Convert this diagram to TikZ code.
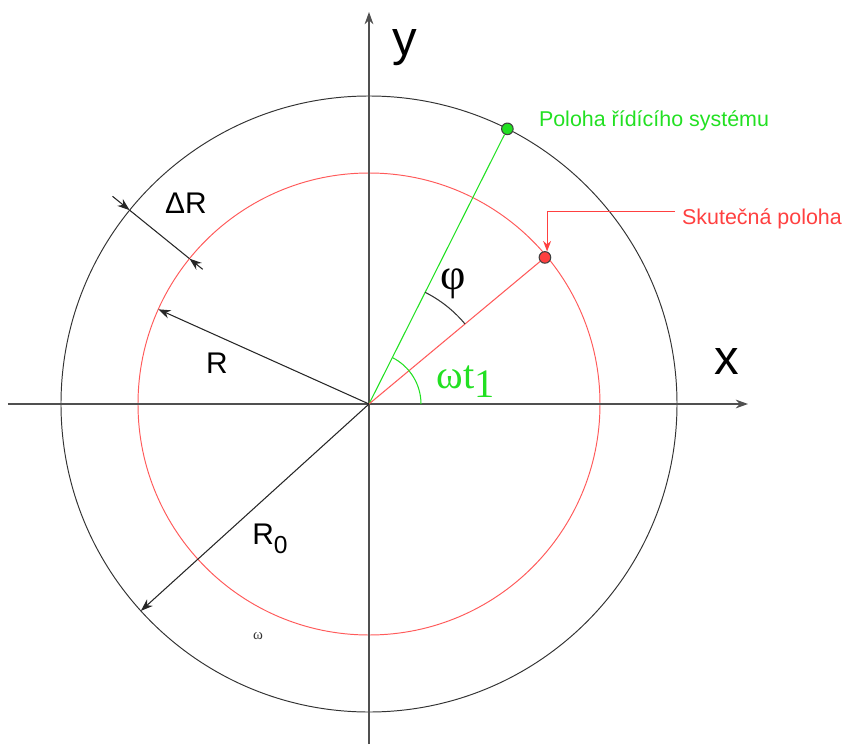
\documentclass[tikz,border=0pt]{standalone}
\usepackage{fontspec}
\setmainfont{Liberation Sans}
\newfontfamily\seriffont{Liberation Serif}
\usetikzlibrary{arrows.meta}
\definecolor{gr}{HTML}{22E022}
\definecolor{rd}{HTML}{FF4040}
\definecolor{rdc}{HTML}{FF5A5A}
\definecolor{ax}{HTML}{505050}
\tikzset{
  lbl/.style={inner sep=0pt, font=\fontsize{17}{17}\selectfont},
  big/.style={inner sep=0pt, font=\fontsize{28}{28}\selectfont},
  small/.style={inner sep=0pt, font=\fontsize{12.2}{12.2}\selectfont},
  tip/.style={-{Stealth[length=7pt,width=5pt]}},
  dot/.style={circle, draw=black!75, line width=0.6pt, minimum size=6.6pt, inner sep=0pt},
}
\begin{document}
\begin{tikzpicture}[x=0.02cm,y=0.02cm]
\useasboundingbox (-369,-340) rectangle (479,404);
\coordinate (O) at (0,0);
% circles
\draw[black!80, line width=0.55pt] (O) circle (308);
\draw[rdc, line width=0.55pt] (O) circle (231);
% axes
\coordinate (xl) at (-361,0); \coordinate (xr) at (379,0);
\coordinate (yb) at (0,-340); \coordinate (yt) at (0,392);
\draw[ax, line width=0.75pt, tip] (xl) -- (xr);
\draw[ax, line width=0.75pt, tip] (yb) -- (yt);
\node[big] (ylab) at (36,356) {y};
\node[big] (xlab) at (358,42) {x};
% points
\node[dot, fill=gr] (G) at (63.3:308) {};
\node[dot, fill=rd] (P) at (39.8:229) {};
\draw[gr, line width=0.6pt] (O) -- (G);
\draw[rdc, line width=0.6pt] (O) -- (P);
% angle arcs
\draw[black!80, line width=0.6pt] (39.8:125) arc[start angle=39.8, end angle=63.3, radius=125];
\draw[gr, line width=0.6pt] (0:52) arc[start angle=0, end angle=63.3, radius=52];
\node[inner sep=0pt, font=\seriffont\fontsize{25}{25}\selectfont] (phi) at (84,120) {φ};
\node[inner sep=0pt, text=gr, font=\seriffont\fontsize{23}{23}\selectfont] (wt) at (97,22) {ωt\raisebox{-0.22em}{1}};
% labels
\node[small, text=gr] (lg) at (285,283) {Poloha řídícího systému};
\node[small, text=rd] (lr) at (393,185) {Skutečná poloha};
\coordinate (L) at (306,193);
\draw[rd, line width=0.55pt, -{Stealth[length=6pt,width=4.5pt]}] (L) -| (P.70);
% R arrows
\coordinate (Rt) at (155.8:231);
\draw[black!85, line width=0.6pt, tip] (O) -- (Rt);
\node[lbl] (Rlab) at (-152,41) {R};
\coordinate (R0t) at (222.2:308);
\draw[black!85, line width=0.6pt, tip] (O) -- (R0t);
\node[lbl] (R0lab) at (-99,-135) {R\raisebox{-0.3em}{\fontsize{14}{14}\selectfont 0}};
% Delta R
\coordinate (d1) at (141:330); \coordinate (d2) at (141:308);
\coordinate (d3) at (141:231); \coordinate (d4) at (141:214);
\draw[black!85, line width=0.6pt] (d2) -- (d3);
\draw[black!85, line width=0.6pt, tip] (d1) -- (d2);
\draw[black!85, line width=0.6pt, tip] (d4) -- (d3);
\node[lbl] (dR) at (-183,201) {ΔR};
% small omega
\node[inner sep=0pt, font=\seriffont\fontsize{8.5}{8.5}\selectfont, text=black!80] (sw) at (-111,-232) {ω};
\end{tikzpicture}
\end{document}
